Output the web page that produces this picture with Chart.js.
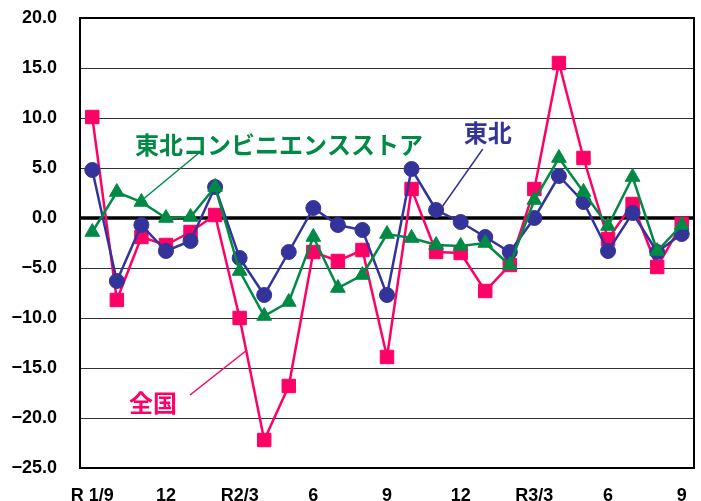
<!DOCTYPE html>
<html>
<head>
<meta charset="utf-8">
<script src="https://cdn.jsdelivr.net/npm/chart.js@4.4.0/dist/chart.umd.min.js"></script>
<style>
  html, body { margin: 0; padding: 0; background: #fff; }
  #wrap { width: 701px; height: 501px; }
</style>
</head>
<body>
<div id="wrap"><canvas id="myChart" width="701" height="501"></canvas></div>
<script>
// months R1/9 .. R3/9
const months = ['R 1/9','','','12','','','R2/3','','','6','','','9','','','12','','','R3/3','','','6','','','9'];

// 全国
const zenkoku = [10.1, -8.2, -1.9, -2.7, -1.4, 0.3, -10.0, -22.2, -16.8, -3.4, -4.3, -3.2,
                 -13.9, 2.9, -3.4, -3.5, -7.3, -4.7, 2.9, 15.5, 6.0, -2.1, 1.4, -4.9, -0.6];
// 東北
const tohoku = [4.8, -6.3, -0.7, -3.3, -2.3, 3.1, -4.0, -7.7, -3.4, 1.0, -0.7, -1.2,
                -7.7, 4.9, 0.8, -0.4, -1.9, -3.4, 0.0, 4.2, 1.6, -3.3, 0.5, -3.4, -1.6];
// 東北コンビニエンスストア
const tohokuConv = [-1.4, 2.6, 1.6, 0.0, 0.1, 3.1, -5.3, -9.8, -8.4, -1.9, -7.0, -5.7,
                    -1.6, -2.0, -2.7, -2.8, -2.5, -4.7, 1.8, 6.0, 2.6, -0.8, 4.1, -3.3, -0.7];

const yMin = -25, yMax = 20, yStep = 5;

const pink = '#FF0066';
const navy = '#333399';
const green = '#008A45';

// callouts: text, text pos (index, value), leader line from/to (index, value)
const callouts = [
  {text: '東北コンビニエンスストア', color: green, tx: 7.6, ty: 7.3, x1: 4.39, y1: 6.6, x2: 2.03, y2: 1.8},
  {text: '東北', color: navy, tx: 16.1, ty: 8.5, x1: 15.9, y1: 6.9, x2: 14.24, y2: 1.1},
  {text: '全国', color: pink, tx: 2.47, ty: -18.5, x1: 3.98, y1: -17.7, x2: 6.3, y2: -13.2}
];

const calloutPlugin = {
  id: 'callouts',
  afterDatasetsDraw(chart) {
    const ctx = chart.ctx;
    const xs = chart.scales.x, ys = chart.scales.y;
    ctx.save();
    callouts.forEach(c => {
      ctx.strokeStyle = c.color;
      ctx.lineWidth = 1.5;
      ctx.beginPath();
      ctx.moveTo(xs.getPixelForValue(c.x1), ys.getPixelForValue(c.y1));
      ctx.lineTo(xs.getPixelForValue(c.x2), ys.getPixelForValue(c.y2));
      ctx.stroke();
      ctx.fillStyle = c.color;
      ctx.font = 'bold 24px "Noto Sans CJK JP"';
      ctx.textAlign = 'center';
      ctx.textBaseline = 'middle';
      ctx.fillText(c.text, xs.getPixelForValue(c.tx), ys.getPixelForValue(c.ty));
    });
    ctx.restore();
  }
};

const framePlugin = {
  id: 'frame',
  afterDatasetsDraw(chart) {
    const a = chart.chartArea, ctx = chart.ctx;
    ctx.save();
    ctx.strokeStyle = '#000';
    ctx.lineWidth = 2;
    ctx.strokeRect(a.left, a.top, a.right - a.left, a.bottom - a.top);
    ctx.restore();
  },
  beforeDatasetsDraw(chart) {
    const a = chart.chartArea, ctx = chart.ctx;
    const y0 = chart.scales.y.getPixelForValue(0);
    ctx.save();
    ctx.strokeStyle = '#000';
    ctx.lineWidth = 3.5;
    ctx.beginPath();
    ctx.moveTo(a.left, y0);
    ctx.lineTo(a.right, y0);
    ctx.stroke();
    ctx.restore();
  }
};

function ds(label, data, color, style, radius, order) {
  return {
    label: label,
    data: data,
    borderColor: color,
    backgroundColor: color,
    pointBackgroundColor: color,
    pointBorderColor: color,
    pointBorderWidth: 1,
    pointStyle: style,
    pointRadius: radius,
    borderWidth: 2.5,
    tension: 0,
    order: order
  };
}

new Chart(document.getElementById('myChart'), {
  type: 'line',
  data: {
    labels: months,
    datasets: [
      ds('全国', zenkoku, pink, 'rect', 9.5, 3),
      ds('東北', tohoku, navy, 'circle', 7.5, 2),
      ds('東北コンビニエンスストア', tohokuConv, green, 'triangle', 8.5, 1)
    ]
  },
  options: {
    responsive: false,
    animation: false,
    layout: { autoPadding: false, padding: { top: 18, right: 7, left: 0, bottom: 0 } },
    plugins: {
      legend: { display: false },
      tooltip: { enabled: false }
    },
    scales: {
      x: {
        offset: true,
        grid: { display: false },
        border: { display: false },
        ticks: {
          autoSkip: false,
          maxRotation: 0,
          padding: 9,
          color: '#000',
          font: { family: '"Liberation Sans", Arial', size: 18, weight: 'bold' }
        },
        afterFit(scale) {
          scale.height = 33;
          scale.paddingLeft = 0;
          scale.paddingRight = 0;
        }
      },
      y: {
        min: yMin,
        max: yMax,
        grid: { color: '#333', lineWidth: 1, drawTicks: false },
        border: { display: false },
        ticks: {
          stepSize: yStep,
          padding: 23,
          color: '#000',
          font: { family: '"Liberation Sans", Arial', size: 18, weight: 'bold' },
          callback: v => (v < 0 ? '\u2212' : '') + Math.abs(v).toFixed(1)
        },
        afterFit(scale) {
          scale.width = 80;
          scale.paddingTop = 10;
          scale.paddingBottom = 10;
        }
      }
    }
  },
  plugins: [framePlugin, calloutPlugin]
});
</script>
</body>
</html>
